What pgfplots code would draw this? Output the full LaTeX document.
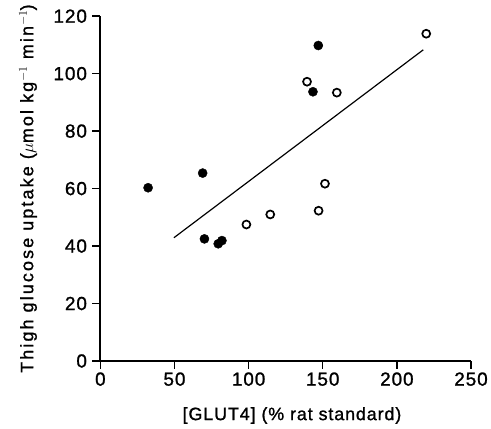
\documentclass[border=0pt]{standalone}
\usepackage{fontspec}
\setmainfont{Liberation Sans}[LetterSpace=5, FakeBold=1.2]
\newfontfamily\ylabfont{Liberation Sans}[LetterSpace=12, FakeBold=1.2]
\usepackage{pgfplots}
\pgfplotsset{compat=1.18}
\begin{document}
\begin{tikzpicture}
\begin{axis}[
  scale only axis,
  width=373pt, height=347pt,
  xmin=0, xmax=250, ymin=0, ymax=120,
  axis lines=left,
  axis line style={-, line width=1.8pt},
  tick align=outside,
  major tick length=8pt,
  tick style={line width=1.5pt, black},
  xtick={0,50,...,250}, ytick={0,20,...,120},
  /pgf/number format/assume math mode=true,
  tick label style={font=\fontsize{19}{22}\selectfont},
  yticklabel style={xshift=-2pt},
  xlabel={[GLUT4] (\% rat standard)},
  ylabel={Thigh glucose uptake ($\mu$mol kg$^{-1}$ min$^{-1}$)},
  xlabel style={font=\fontsize{18}{21}\selectfont, at={(axis description cs:0.517,-0.158)}, anchor=center},
  ylabel style={font=\ylabfont\fontsize{18}{21}\selectfont, at={(axis description cs:-0.195,0.5)}, anchor=center},
  clip=false,
]
% regression line
\addplot[black, line width=1.2pt] coordinates {(49.6,42.9) (217.8,108.3)};
% filled circles
\addplot[only marks, mark=*, mark size=4.6pt, black] coordinates {
  (32.2,60.3) (69.0,65.4) (70.2,42.5) (79.5,40.8)
  (82.0,41.9) (143.4,93.7) (147.0,109.8)
};
% open circles
\addplot[only marks, mark=o, mark size=4.0pt, black, mark options={line width=1.7pt, fill=white}] coordinates {
  (98.5,47.5) (114.6,51.0) (147.2,52.3) (151.5,61.7)
  (139.4,97.2) (159.5,93.4) (219.8,113.9)
};
\end{axis}
\path (-101pt,-67.7pt) rectangle (390pt,363.3pt);
\end{tikzpicture}
\end{document}
